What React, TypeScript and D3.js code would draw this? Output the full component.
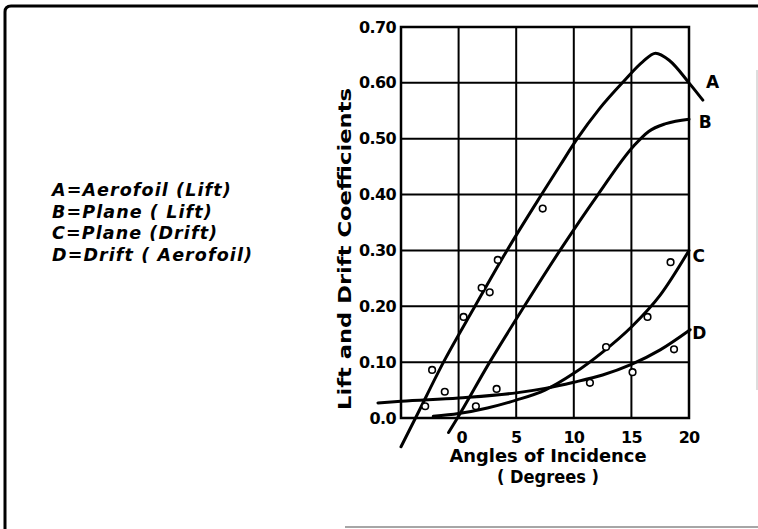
import React, { useEffect, useRef } from "react";
import * as d3 from "d3";

// curve points: [angle (deg), coefficient]
const curveA: [number, number][] = [
  [-5.0, -0.0515], [-3.74, 0], [-1.31, 0.1], [1.42, 0.2], [4.2, 0.3], [7.2, 0.4],
  [8.8, 0.452], [10.3, 0.5], [12.2, 0.553], [14.3, 0.602], [16.0, 0.638],
  [17.1, 0.653], [18.3, 0.64], [20.0, 0.6], [21.2, 0.569],
];
const curveB: [number, number][] = [
  [-0.87, -0.026], [-0.1, 0], [2.7, 0.1], [5.7, 0.2], [8.8, 0.3], [12.1, 0.4],
  [15.2, 0.487], [16.5, 0.513], [18.0, 0.527], [20.0, 0.535],
];
const curveC: [number, number][] = [
  [-2.2, 0.003], [0, 0.008], [2.5, 0.018], [5, 0.032], [7.5, 0.05], [10, 0.08],
  [12.5, 0.118], [15, 0.163], [17.5, 0.22], [20, 0.3],
];
const curveD: [number, number][] = [
  [-7, 0.027], [-5, 0.03], [0, 0.036], [5, 0.045], [7.5, 0.053], [10, 0.064],
  [12.5, 0.077], [15, 0.096], [17.5, 0.122], [20.1, 0.158],
];

// observed points (small circles)
const observed: [number, number][] = [
  [-2.9, 0.021], [-2.3, 0.086], [-1.2, 0.047], [0.43, 0.181], [1.5, 0.021],
  [2.0, 0.233], [2.7, 0.225], [3.3, 0.052], [3.4, 0.283], [7.3, 0.375],
  [11.4, 0.063], [12.8, 0.127], [15.1, 0.082], [16.4, 0.181], [18.4, 0.279],
  [18.7, 0.123],
];

const xTicks = [0, 5, 10, 15, 20];
const xGrid = [-5, 0, 5, 10, 15, 20];
const yTicks = [0, 0.1, 0.2, 0.3, 0.4, 0.5, 0.6, 0.7];
const yTickLabels = ["0.0", "0.10", "0.20", "0.30", "0.40", "0.50", "0.60", "0.70"];

const curveLabels = ["A", "B", "C", "D"];
const legendLines = [
  "A=Aerofoil (Lift)",
  "B=Plane ( Lift)",
  "C=Plane (Drift)",
  "D=Drift ( Aerofoil)",
];

export default function App() {
  const ref = useRef<SVGSVGElement>(null);

  useEffect(() => {
    const svg = d3.select(ref.current);
    svg.selectAll("*").remove();

    const font = "'DejaVu Sans', sans-serif";

    const x = d3.scaleLinear().domain([-5, 20]).range([401, 689]);
    const y = d3.scaleLinear().domain([0, 0.7]).range([418, 27]);

    // outer frame
    svg
      .append("path")
      .attr("d", "M5,529 L5,12 Q5,6 11,6 L758,6")
      .attr("fill", "none")
      .attr("stroke", "#000")
      .attr("stroke-width", 3);
    svg
      .append("line")
      .attr("x1", 345).attr("x2", 758).attr("y1", 527).attr("y2", 527)
      .attr("stroke", "#888").attr("stroke-width", 1.5);
    svg
      .append("line")
      .attr("x1", 757).attr("x2", 757).attr("y1", 70).attr("y2", 390)
      .attr("stroke", "#bbb").attr("stroke-width", 1);

    // grid
    const grid = svg.append("g").attr("stroke", "#000").attr("stroke-width", 2);
    grid
      .selectAll("line.v")
      .data(xGrid)
      .enter()
      .append("line")
      .attr("x1", (d) => x(d)).attr("x2", (d) => x(d))
      .attr("y1", y(0.7)).attr("y2", y(0));
    grid
      .selectAll("line.h")
      .data(yTicks)
      .enter()
      .append("line")
      .attr("x1", x(-5)).attr("x2", x(20))
      .attr("y1", (d) => y(d)).attr("y2", (d) => y(d));
    svg
      .append("rect")
      .attr("x", x(-5)).attr("y", y(0.7))
      .attr("width", x(20) - x(-5)).attr("height", y(0) - y(0.7))
      .attr("fill", "none").attr("stroke", "#000").attr("stroke-width", 2.5);

    // tick labels
    svg
      .append("g")
      .selectAll("text")
      .data(yTicks)
      .enter()
      .append("text")
      .attr("x", x(-5) - 5)
      .attr("y", (d) => y(d) + 5.5)
      .attr("text-anchor", "end")
      .attr("font-family", font)
      .attr("font-weight", "bold")
      .attr("font-size", 16)
      .attr("letter-spacing", -0.6)
      .text((d, i) => yTickLabels[i]);
    svg
      .append("g")
      .selectAll("text")
      .data(xTicks)
      .enter()
      .append("text")
      .attr("x", (d) => x(d) + (d === 0 ? 3 : 0))
      .attr("y", 443)
      .attr("text-anchor", "middle")
      .attr("font-family", font)
      .attr("font-weight", "bold")
      .attr("font-size", 16)
      .attr("letter-spacing", -0.8)
      .text((d) => d);

    // axis titles
    svg
      .append("text")
      .attr("x", 548).attr("y", 462)
      .attr("text-anchor", "middle")
      .attr("font-family", font).attr("font-weight", "bold").attr("font-size", 17)
      .attr("textLength", 197).attr("lengthAdjust", "spacingAndGlyphs")
      .text("Angles of Incidence");
    svg
      .append("text")
      .attr("x", 548).attr("y", 483)
      .attr("text-anchor", "middle")
      .attr("font-family", font).attr("font-weight", "bold").attr("font-size", 17)
      .attr("textLength", 102).attr("lengthAdjust", "spacingAndGlyphs")
      .text("( Degrees )");
    svg
      .append("text")
      .attr("transform", "translate(351,249) rotate(-90)")
      .attr("text-anchor", "middle")
      .attr("font-family", font).attr("font-weight", "bold").attr("font-size", 18)
      .attr("textLength", 322).attr("lengthAdjust", "spacingAndGlyphs")
      .text("Lift and Drift Coefficients");

    // curves
    const line = d3
      .line<[number, number]>()
      .x((d) => x(d[0]))
      .y((d) => y(d[1]))
      .curve(d3.curveMonotoneX);
    const curves = [curveA, curveB, curveC, curveD];
    svg
      .append("g")
      .selectAll("path")
      .data(curves)
      .enter()
      .append("path")
      .attr("d", (d) => line(d))
      .attr("fill", "none")
      .attr("stroke", "#000")
      .attr("stroke-width", 3)
      .attr("stroke-linecap", "round");

    // curve letters at the right end of each curve
    const labelPos: [number, number][] = [
      [curveA[curveA.length - 1][0] + 0.85, curveA[curveA.length - 1][1] + 0.032],
      [curveB[curveB.length - 1][0] + 1.4, curveB[curveB.length - 1][1] - 0.005],
      [curveC[curveC.length - 1][0] + 0.85, curveC[curveC.length - 1][1] - 0.01],
      [curveD[curveD.length - 1][0] + 0.8, curveD[curveD.length - 1][1] - 0.005],
    ];
    svg
      .append("g")
      .selectAll("text")
      .data(curveLabels)
      .enter()
      .append("text")
      .attr("x", (d, i) => x(labelPos[i][0]))
      .attr("y", (d, i) => y(labelPos[i][1]) + 6)
      .attr("text-anchor", "middle")
      .attr("font-family", font)
      .attr("font-weight", "bold")
      .attr("font-size", 17)
      .text((d) => d);

    // observed points
    svg
      .append("g")
      .selectAll("circle")
      .data(observed)
      .enter()
      .append("circle")
      .attr("cx", (d) => x(d[0]))
      .attr("cy", (d) => y(d[1]))
      .attr("r", 3.3)
      .attr("fill", "#fff")
      .attr("stroke", "#000")
      .attr("stroke-width", 1.6);

    // legend
    svg
      .append("g")
      .selectAll("text")
      .data(legendLines)
      .enter()
      .append("text")
      .attr("x", 52)
      .attr("y", (d, i) => 196 + i * 21.5)
      .attr("font-family", font)
      .attr("font-weight", "bold")
      .attr("font-style", "italic")
      .attr("font-size", 17.5)
      .attr("letter-spacing", 1.1)
      .text((d) => d);
  }, []);

  return (
    <svg
      ref={ref}
      width={758}
      height={529}
      style={{ position: "absolute", left: 0, top: 0, background: "#fff" }}
    />
  );
}
